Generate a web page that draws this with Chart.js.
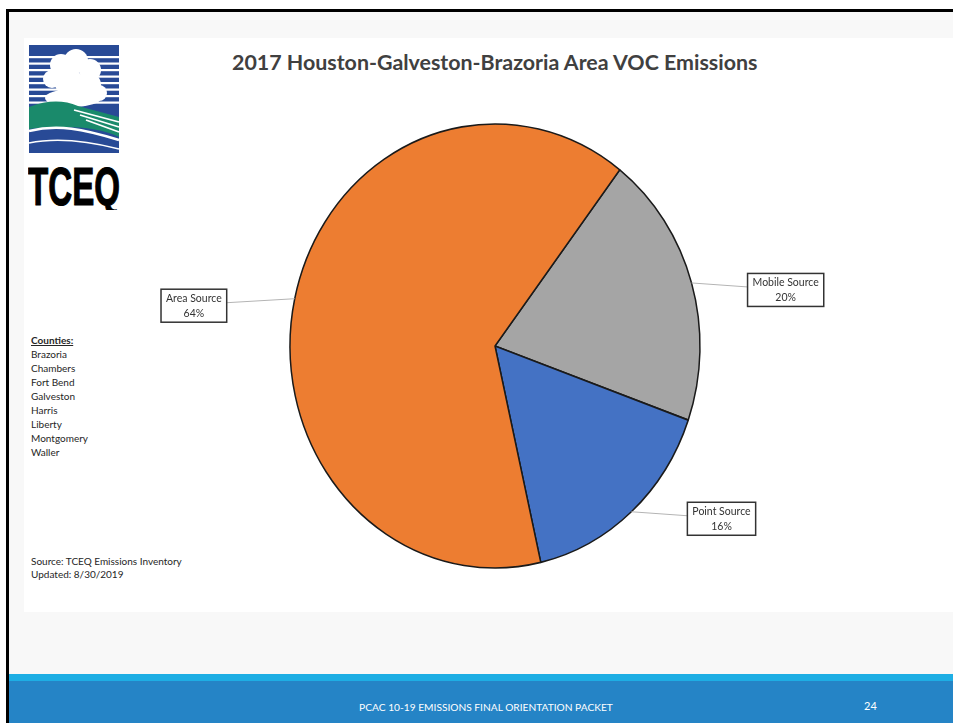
<!DOCTYPE html>
<html>
<head>
<meta charset="utf-8">
<script src="https://cdn.jsdelivr.net/npm/chart.js@4"></script>
<style>
  body { margin: 0; width: 953px; height: 723px; overflow: hidden; background: #fff; position: relative; font-family: Lato, "Open Sans", sans-serif }
  #frame { position: absolute; left: 6px; top: 9px; right: 0; bottom: 0; border-left: 3px solid #000; border-top: 3px solid #000; background: #f8f8f8 }
  #picture { position: absolute; left: 24px; top: 38px; width: 929px; height: 574px; background: #fff }
  #logo { position: absolute; left: 28px; top: 45px }
  #title { position: absolute; left: 232px; top: 49px; font-weight: bold; font-size: 21.4px; color: #404040; white-space: nowrap }
  #counties { position: absolute; left: 31px; top: 333px; font-size: 10px; line-height: 14px; color: #262626 }
  #counties u { font-weight: bold }
  #source { position: absolute; left: 31px; top: 555px; font-size: 10px; line-height: 13px; color: #262626 }
  #bar { position: absolute; left: 9px; right: 0; top: 674px; height: 7px; background: #1eaee4 }
  #footer { position: absolute; left: 9px; right: 0; top: 681px; bottom: 0; background: #2584c6; color: #fff }
  #footer .txt { position: absolute; left: 349px; top: 20px; width: 256px; text-align: center; font-size: 10.2px; white-space: nowrap }
  #footer .num { position: absolute; left: 855px; top: 18px; font-size: 11px }
  canvas { position: absolute; left: 0; top: 0 }
</style>
</head>
<body>
<div id="frame"></div>
<div id="picture"></div>
<svg id="logo" width="92" height="165" viewBox="0 0 92 165">
  <rect x="1" y="0" width="90" height="108" fill="#284a96"/>
  <g fill="#fff">
    <rect x="1" y="11" width="90" height="2.2"/>
    <rect x="1" y="17.5" width="90" height="2.2"/>
    <rect x="1" y="24" width="90" height="2.2"/>
    <rect x="1" y="30.5" width="90" height="2.2"/>
    <rect x="1" y="37" width="90" height="2.2"/>
    <rect x="1" y="43.5" width="90" height="2.2"/>
    <rect x="1" y="50" width="90" height="2.2"/>
    <rect x="1" y="56.5" width="90" height="2.2"/>
    <circle cx="33" cy="20" r="11"/>
    <circle cx="48" cy="16" r="12"/>
    <circle cx="62" cy="25" r="11"/>
    <circle cx="24" cy="34" r="9"/>
    <circle cx="40" cy="36" r="14"/>
    <circle cx="60" cy="40" r="13"/>
    <circle cx="71" cy="48" r="8"/>
    <ellipse cx="45" cy="53" rx="28" ry="9"/>
  </g>
  <path d="M1,62 C20,55 35,55 50,61 L91,72 L91,92 C70,82 40,80 1,84 Z" fill="#1a8a6b"/>
  <g stroke="#fff" stroke-width="1.8">
    <line x1="46" y1="65" x2="91" y2="77"/>
    <line x1="52" y1="70" x2="91" y2="82"/>
    <line x1="58" y1="75" x2="91" y2="87"/>
  </g>
  <path d="M1,86 C30,79 55,84 91,95" stroke="#fff" stroke-width="2.5" fill="none"/>
  <path d="M1,98 C30,92 60,96 91,104" stroke="#fff" stroke-width="1.5" fill="none"/>
  <text x="46" y="160" text-anchor="middle" font-family="Liberation Sans" font-weight="bold" font-size="54" textLength="92" lengthAdjust="spacingAndGlyphs" fill="#000" stroke="#000" stroke-width="1.2">TCEQ</text>
</svg>
<div id="title">2017 Houston-Galveston-Brazoria Area VOC Emissions</div>
<div id="counties"><u>Counties:</u><br>Brazoria<br>Chambers<br>Fort Bend<br>Galveston<br>Harris<br>Liberty<br>Montgomery<br>Waller</div>
<div id="source">Source: TCEQ Emissions Inventory<br>Updated: 8/30/2019</div>
<div id="bar"></div>
<div id="footer"><div class="txt">PCAC 10-19 EMISSIONS FINAL ORIENTATION PACKET</div><div class="num">24</div></div>
<canvas id="pie" width="953" height="723"></canvas>
<script>
// VOC emissions share, percent
const categories = ['Mobile Source', 'Point Source', 'Area Source']
const values = [20, 16, 64]
const colors = ['#a5a5a5', '#4472c4', '#ed7d31']

// the slide's pie is a little taller than wide
const stretch = 1.083

function drawLabels(chart) {
  let ctx = chart.ctx
  let meta = chart.getDatasetMeta(0)
  ctx.save()
  ctx.font = '10.5px Lato'
  meta.data.forEach((arc, i) => {
    let mid = (arc.startAngle + arc.endAngle) / 2
    let ex = arc.x + Math.cos(mid) * arc.outerRadius
    let ey = arc.y + Math.sin(mid) * arc.outerRadius * stretch
    let right = Math.cos(mid) >= 0
    let line1 = categories[i]
    let line2 = values[i] + '%'
    let w = Math.max(ctx.measureText(line1).width, ctx.measureText(line2).width) + 10
    let h = 33
    let bx = right ? ex + 56 : ex - 68 - w
    let by = ey + 7 - h / 2
    ctx.strokeStyle = '#b4b4b4'
    ctx.lineWidth = 1
    ctx.beginPath()
    ctx.moveTo(ex, ey)
    ctx.lineTo(right ? bx : bx + w, by + h / 2 - 3)
    ctx.stroke()
    ctx.fillStyle = '#fff'
    ctx.fillRect(bx, by, w, h)
    ctx.strokeStyle = '#333'
    ctx.lineWidth = 1.5
    ctx.strokeRect(bx, by, w, h)
    ctx.fillStyle = '#333'
    ctx.textAlign = 'center'
    ctx.textBaseline = 'middle'
    ctx.fillText(line1, bx + w / 2, by + h / 2 - 7)
    ctx.fillText(line2, bx + w / 2, by + h / 2 + 8)
  })
  ctx.restore()
}

const ellipsePlugin = {
  id: 'ellipse',
  beforeDatasetsDraw(chart) {
    let arc = chart.getDatasetMeta(0).data[0]
    let ctx = chart.ctx
    ctx.save()
    ctx.translate(arc.x, arc.y)
    ctx.scale(1, stretch)
    ctx.translate(-arc.x, -arc.y)
  },
  afterDatasetsDraw(chart) {
    chart.ctx.restore()
    drawLabels(chart)
  }
}

new Chart(document.getElementById('pie').getContext('2d'), {
  type: 'pie',
  data: {
    labels: categories,
    datasets: [{
      data: values,
      backgroundColor: colors,
      borderColor: '#1a1a1a',
      borderWidth: 1.5,
      clip: false
    }]
  },
  options: {
    responsive: false,
    animation: false,
    rotation: 37.5,
    radius: 205,
    layout: { padding: { left: 290, right: 253, top: 120, bottom: 151 } },
    plugins: {
      legend: { display: false },
      tooltip: { enabled: false }
    }
  },
  plugins: [ellipsePlugin]
})
</script>
</body>
</html>
